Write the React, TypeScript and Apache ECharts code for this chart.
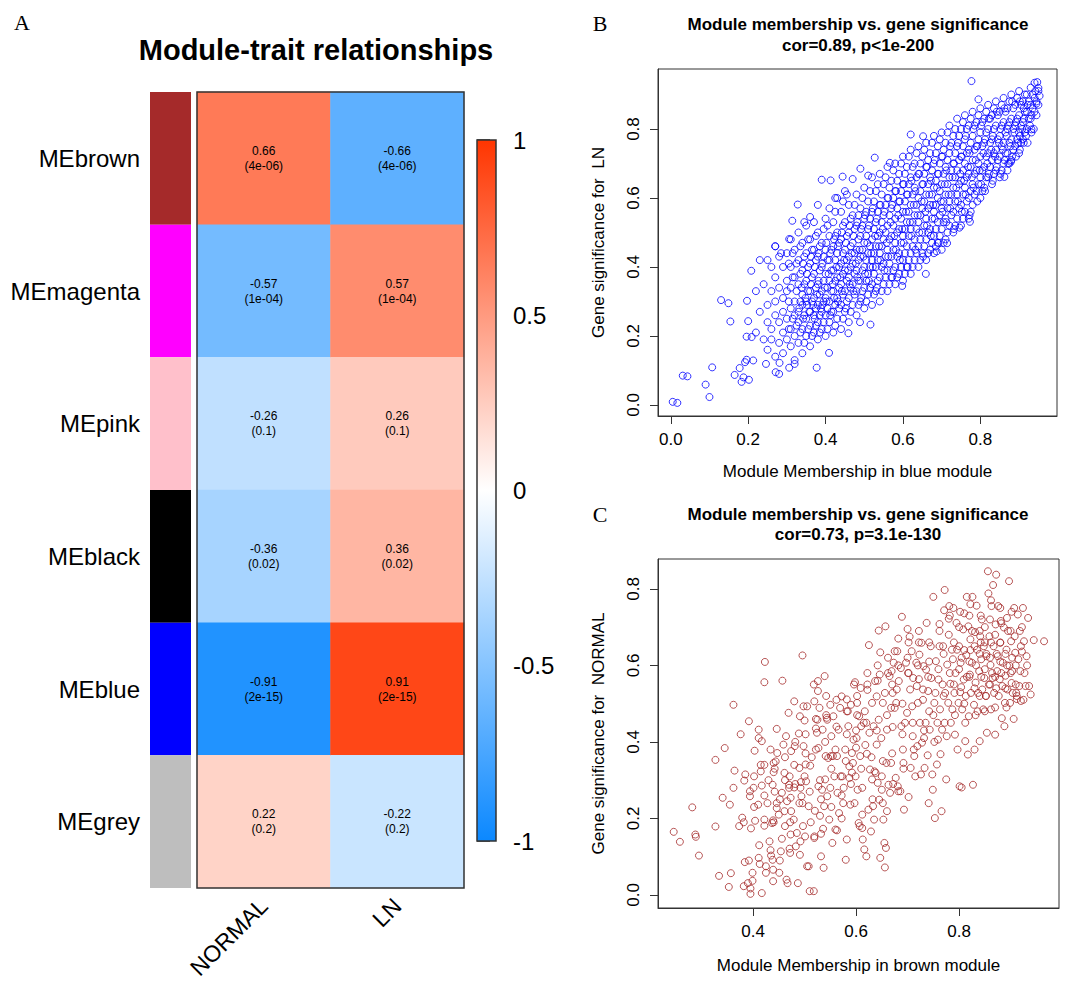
import React, { useEffect, useRef } from "react";
import * as echarts from "echarts";

const FONT = "'Liberation Sans', Arial, Helvetica, sans-serif";

// ---------- Panel A data ----------
const modules = ["MEbrown", "MEmagenta", "MEpink", "MEblack", "MEblue", "MEgrey"];
const moduleColors = ["#A52A2A", "#FF00FF", "#FFC0CB", "#000000", "#0000FF", "#BEBEBE"];
const traits = ["NORMAL", "LN"];
const corNormal = [0.66, -0.57, -0.26, -0.36, -0.91, 0.22];
const corLN = [-0.66, 0.57, 0.26, 0.36, 0.91, -0.22];
const pValues = ["4e-06", "1e-04", "0.1", "0.02", "2e-15", "0.2"];

// ---------- Panel B data (Module membership in blue vs GS for LN) ----------
const bTicks = [0, 0.2, 0.4, 0.6, 0.8];
const bSparse = [
  [0.005,0.009],[0.017,0.006],[0.031,0.085],[0.043,0.083],[0.09,0.059],[0.1,0.023],[0.107,0.109],
  [0.13,0.304],[0.149,0.295],[0.154,0.242],[0.165,0.087],[0.178,0.107],[0.183,0.067],[0.188,0.08],
  [0.192,0.124],[0.196,0.131],[0.202,0.073],[0.213,0.129],[0.197,0.302],[0.208,0.389],[0.196,0.198],
  [0.209,0.197],[0.2,0.243],[0.246,0.119],[0.271,0.095],[0.28,0.09],[0.281,0.122],[0.306,0.108],
  [0.32,0.119],[0.377,0.108],[0.328,0.581],[0.314,0.534],[0.306,0.481],[0.39,0.653],[0.413,0.651],
  [0.38,0.58],[0.527,0.717],[0.566,0.702],[0.516,0.233],[0.62,0.784],[0.652,0.779],[0.659,0.38],
  [0.777,0.939],[0.795,0.886],[0.862,0.661],[0.879,0.705],[0.932,0.799],[0.94,0.934],[0.947,0.936],
  [0.95,0.919],[0.953,0.896],[0.945,0.874],[0.773,0.531],[0.746,0.514],[0.714,0.469],[0.687,0.445],
  [0.598,0.345],[0.459,0.208],[0.409,0.151],[0.489,0.24],
  [0.444,0.662],[0.47,0.655],[0.49,0.685],[0.51,0.665],[0.425,0.6],[0.455,0.61],[0.345,0.53],[0.36,0.545],
  [0.27,0.46],[0.285,0.44]
];
const bBandA = [
  [0.22,0.33],[0.22,0.21],[0.23,0.42],[0.23,0.27],[0.24,0.19],[0.24,0.35],[0.25,0.42],[0.25,0.29],[0.25,0.16],[0.25,0.24],
  [0.26,0.40],[0.26,0.33],[0.26,0.22],[0.26,0.19],[0.27,0.46],[0.27,0.37],[0.27,0.30],[0.27,0.26],[0.27,0.14],[0.28,0.43],
  [0.28,0.34],[0.28,0.24],[0.28,0.18],[0.29,0.40],[0.29,0.31],[0.29,0.27],[0.29,0.21],[0.29,0.15],[0.30,0.44],[0.30,0.36],
  [0.30,0.33],[0.30,0.25],[0.30,0.19],
  [0.31,0.48],[0.31,0.40],[0.31,0.34],[0.31,0.28],[0.31,0.22],[0.31,0.17],[0.32,0.45],[0.32,0.37],[0.32,0.30],[0.32,0.26],
  [0.32,0.20],[0.32,0.13],[0.33,0.50],[0.33,0.42],[0.33,0.35],[0.33,0.27],[0.33,0.24],[0.33,0.18],[0.34,0.47],[0.34,0.39],
  [0.34,0.32],[0.34,0.29],[0.34,0.22],[0.34,0.15],[0.35,0.52],[0.35,0.44],[0.35,0.36],[0.35,0.30],[0.35,0.25],[0.35,0.20],
  [0.36,0.48],[0.36,0.41],[0.36,0.33],[0.36,0.27],[0.36,0.23],[0.36,0.17],[0.37,0.53],[0.37,0.45],[0.37,0.38],[0.37,0.31],
  [0.37,0.26],[0.37,0.21],[0.38,0.50],[0.38,0.43],[0.38,0.35],[0.38,0.29],[0.38,0.24],[0.38,0.19],[0.39,0.47],[0.39,0.40],
  [0.39,0.33],[0.39,0.27],[0.39,0.22],[0.40,0.54],[0.40,0.45],[0.40,0.38],[0.40,0.31],[0.40,0.26],[0.40,0.20],
  [0.41,0.57],[0.41,0.49],[0.41,0.42],[0.41,0.36],[0.41,0.30],[0.41,0.24],[0.42,0.53],[0.42,0.46],[0.42,0.39],[0.42,0.33],
  [0.42,0.27],[0.42,0.21],[0.43,0.60],[0.43,0.50],[0.43,0.44],[0.43,0.37],[0.43,0.31],[0.43,0.25],[0.44,0.56],[0.44,0.48],
  [0.44,0.41],[0.44,0.35],[0.44,0.29],[0.44,0.22],[0.45,0.62],[0.45,0.53],[0.45,0.45],[0.45,0.39],[0.45,0.33],[0.45,0.27],
  [0.46,0.58],[0.46,0.50],[0.46,0.43],[0.46,0.37],[0.46,0.31],[0.46,0.24],[0.47,0.55],[0.47,0.47],[0.47,0.41],[0.47,0.35],
  [0.47,0.29],[0.48,0.61],[0.48,0.52],[0.48,0.45],[0.48,0.39],[0.48,0.33],[0.48,0.26],[0.49,0.57],[0.49,0.49],[0.49,0.43],
  [0.49,0.36],[0.49,0.30],[0.50,0.63],[0.50,0.54],[0.50,0.47],[0.50,0.40],[0.50,0.34],[0.50,0.28],
  [0.51,0.59],[0.51,0.51],[0.51,0.44],[0.51,0.38],[0.51,0.32],[0.52,0.66],[0.52,0.56],[0.52,0.48],[0.52,0.42],[0.52,0.35],
  [0.52,0.29],[0.53,0.62],[0.53,0.53],[0.53,0.46],[0.53,0.40],[0.53,0.33],[0.54,0.67],[0.54,0.58],[0.54,0.50],[0.54,0.44],
  [0.54,0.37],[0.54,0.30],[0.55,0.64],[0.55,0.55],[0.55,0.48],[0.55,0.41],[0.55,0.35],[0.56,0.69],[0.56,0.60],[0.56,0.52],
  [0.56,0.45],[0.56,0.39],[0.56,0.33],[0.57,0.65],[0.57,0.57],[0.57,0.49],[0.57,0.43],[0.57,0.37],[0.58,0.70],[0.58,0.62],
  [0.58,0.54],[0.58,0.47],[0.58,0.40],[0.58,0.35],[0.59,0.67],[0.59,0.59],[0.59,0.51],[0.59,0.44],[0.59,0.38],[0.60,0.72],
  [0.60,0.64],[0.60,0.56],[0.60,0.49],[0.60,0.42],[0.60,0.36],
  [0.61,0.69],[0.61,0.61],[0.61,0.53],[0.61,0.46],[0.61,0.40],[0.62,0.74],[0.62,0.66],[0.62,0.58],[0.62,0.51],[0.62,0.44],
  [0.62,0.38],[0.63,0.70],[0.63,0.63],[0.63,0.55],[0.63,0.48],[0.63,0.42],[0.64,0.75],[0.64,0.67],[0.64,0.60],[0.64,0.53],
  [0.64,0.46],[0.64,0.40],[0.65,0.72],[0.65,0.64],[0.65,0.57],[0.65,0.50],[0.65,0.44],[0.66,0.76],[0.66,0.69],[0.66,0.61],
  [0.66,0.54],[0.66,0.48],[0.66,0.42],[0.67,0.73],[0.67,0.66],[0.67,0.58],[0.67,0.51],[0.67,0.45],[0.68,0.78],[0.68,0.70],
  [0.68,0.63],[0.68,0.56],[0.68,0.49],[0.68,0.44],[0.69,0.75],[0.69,0.67],[0.69,0.60],[0.69,0.53],[0.69,0.47],[0.70,0.79],
  [0.70,0.72],[0.70,0.64],[0.70,0.57],[0.70,0.51],[0.70,0.45],
  [0.71,0.76],[0.71,0.69],[0.71,0.61],[0.71,0.54],[0.71,0.48],[0.72,0.81],[0.72,0.73],[0.72,0.66],[0.72,0.59],[0.72,0.52],
  [0.73,0.78],[0.73,0.70],[0.73,0.63],[0.73,0.56],[0.73,0.50],[0.74,0.83],[0.74,0.75],[0.74,0.68],[0.74,0.61],[0.74,0.54],
  [0.75,0.80],[0.75,0.72],[0.75,0.65],[0.75,0.58],[0.75,0.52],[0.76,0.84],[0.76,0.77],[0.76,0.70],[0.76,0.63],[0.76,0.56],
  [0.77,0.81],[0.77,0.74],[0.77,0.67],[0.77,0.60],[0.77,0.54],[0.78,0.85],[0.78,0.78],[0.78,0.71],[0.78,0.64],[0.78,0.58],
  [0.79,0.82],[0.79,0.75],[0.79,0.68],[0.79,0.62],[0.80,0.86],[0.80,0.79],[0.80,0.72],[0.80,0.66],[0.80,0.60],
  [0.81,0.83],[0.81,0.76],[0.81,0.69],[0.81,0.63],[0.82,0.87],[0.82,0.80],[0.82,0.73],[0.82,0.66],[0.83,0.84],[0.83,0.77],
  [0.83,0.71],[0.83,0.64],[0.84,0.88],[0.84,0.81],[0.84,0.74],[0.84,0.68],[0.85,0.85],[0.85,0.78],[0.85,0.72],[0.85,0.66],
  [0.86,0.89],[0.86,0.82],[0.86,0.76],[0.86,0.70],[0.87,0.86],[0.87,0.80],[0.87,0.73],[0.87,0.68],[0.88,0.90],[0.88,0.83],
  [0.88,0.77],[0.88,0.71],[0.89,0.87],[0.89,0.81],[0.89,0.75],[0.90,0.91],[0.90,0.84],[0.90,0.79],[0.90,0.73],
  [0.91,0.88],[0.91,0.82],[0.91,0.77],[0.92,0.90],[0.92,0.85],[0.92,0.80],[0.93,0.92],[0.93,0.87],[0.93,0.83],[0.94,0.89],
  [0.94,0.85],[0.95,0.91],[0.95,0.87]
];
const bBandB = [
  [0.305,0.41],[0.305,0.30],[0.305,0.22],[0.315,0.44],[0.315,0.37],[0.315,0.25],[0.325,0.41],[0.325,0.33],[0.325,0.23],
  [0.335,0.46],[0.335,0.38],[0.335,0.30],[0.335,0.21],[0.345,0.43],[0.345,0.35],[0.345,0.26],[0.345,0.18],[0.355,0.48],
  [0.355,0.40],[0.355,0.33],[0.355,0.22],[0.365,0.45],[0.365,0.37],[0.365,0.30],[0.365,0.20],[0.375,0.49],[0.375,0.42],
  [0.375,0.34],[0.375,0.28],[0.375,0.23],[0.385,0.46],[0.385,0.39],[0.385,0.32],[0.385,0.26],[0.385,0.21],[0.395,0.51],
  [0.395,0.43],[0.395,0.36],[0.395,0.30],[0.395,0.24],
  [0.405,0.52],[0.405,0.42],[0.405,0.34],[0.405,0.28],[0.405,0.22],[0.415,0.45],[0.415,0.39],[0.415,0.33],[0.415,0.27],
  [0.425,0.56],[0.425,0.49],[0.425,0.42],[0.425,0.36],[0.425,0.29],[0.425,0.23],[0.435,0.47],[0.435,0.40],[0.435,0.34],
  [0.435,0.28],[0.445,0.59],[0.445,0.52],[0.445,0.44],[0.445,0.38],[0.445,0.32],[0.445,0.25],[0.455,0.49],[0.455,0.42],
  [0.455,0.36],[0.455,0.30],[0.465,0.54],[0.465,0.46],[0.465,0.40],[0.465,0.34],[0.465,0.27],[0.475,0.58],[0.475,0.51],
  [0.475,0.44],[0.475,0.38],[0.475,0.32],[0.485,0.55],[0.485,0.48],[0.485,0.42],[0.485,0.36],[0.485,0.29],[0.495,0.60],
  [0.495,0.52],[0.495,0.45],[0.495,0.39],[0.495,0.33],
  [0.505,0.56],[0.505,0.49],[0.505,0.42],[0.505,0.36],[0.505,0.30],[0.515,0.62],[0.515,0.54],[0.515,0.46],[0.515,0.40],
  [0.515,0.34],[0.525,0.59],[0.525,0.51],[0.525,0.44],[0.525,0.38],[0.525,0.32],[0.535,0.64],[0.535,0.56],[0.535,0.49],
  [0.535,0.42],[0.535,0.36],[0.545,0.61],[0.545,0.53],[0.545,0.46],[0.545,0.40],[0.545,0.33],[0.555,0.66],[0.555,0.58],
  [0.555,0.50],[0.555,0.43],[0.555,0.37],[0.565,0.63],[0.565,0.55],[0.565,0.48],[0.565,0.41],[0.565,0.35],[0.575,0.68],
  [0.575,0.60],[0.575,0.52],[0.575,0.45],[0.575,0.39],[0.585,0.65],[0.585,0.57],[0.585,0.50],[0.585,0.43],[0.585,0.37],
  [0.595,0.70],[0.595,0.62],[0.595,0.54],[0.595,0.47],[0.595,0.40],
  [0.605,0.67],[0.605,0.59],[0.605,0.51],[0.605,0.44],[0.605,0.38],[0.615,0.72],[0.615,0.64],[0.615,0.56],[0.615,0.49],
  [0.615,0.42],[0.625,0.69],[0.625,0.61],[0.625,0.53],[0.625,0.46],[0.625,0.40],[0.635,0.73],[0.635,0.66],[0.635,0.58],
  [0.635,0.51],[0.635,0.44],[0.645,0.70],[0.645,0.62],[0.645,0.55],[0.645,0.48],[0.645,0.42],[0.655,0.74],[0.655,0.67],
  [0.655,0.59],[0.655,0.52],[0.655,0.46],[0.665,0.71],[0.665,0.64],[0.665,0.57],[0.665,0.50],[0.665,0.44],[0.675,0.76],
  [0.675,0.68],[0.675,0.61],[0.675,0.54],[0.675,0.47],[0.685,0.73],[0.685,0.65],[0.685,0.58],[0.685,0.51],[0.685,0.46],
  [0.695,0.77],[0.695,0.70],[0.695,0.62],[0.695,0.55],[0.695,0.49],
  [0.705,0.74],[0.705,0.67],[0.705,0.59],[0.705,0.53],[0.705,0.47],[0.715,0.79],[0.715,0.71],[0.715,0.64],[0.715,0.57],
  [0.715,0.50],[0.725,0.76],[0.725,0.68],[0.725,0.61],[0.725,0.55],[0.735,0.80],[0.735,0.73],[0.735,0.66],[0.735,0.59],
  [0.735,0.52],[0.745,0.78],[0.745,0.71],[0.745,0.64],[0.745,0.57],[0.755,0.82],[0.755,0.75],[0.755,0.68],[0.755,0.61],
  [0.755,0.54],[0.765,0.80],[0.765,0.73],[0.765,0.66],[0.765,0.59],[0.775,0.83],[0.775,0.76],[0.775,0.69],[0.775,0.62],
  [0.775,0.56],[0.785,0.81],[0.785,0.74],[0.785,0.67],[0.785,0.61],[0.795,0.84],[0.795,0.77],[0.795,0.70],[0.795,0.64],
  [0.805,0.82],[0.805,0.75],[0.805,0.68],[0.805,0.62],[0.815,0.85],[0.815,0.79],[0.815,0.72],[0.815,0.66],[0.825,0.83],
  [0.825,0.76],[0.825,0.69],[0.835,0.86],[0.835,0.80],[0.835,0.73],[0.835,0.67],[0.845,0.84],[0.845,0.77],[0.845,0.71],
  [0.855,0.87],[0.855,0.81],[0.855,0.75],[0.855,0.68],[0.865,0.85],[0.865,0.79],[0.865,0.73],[0.875,0.88],[0.875,0.82],
  [0.875,0.76],[0.875,0.70],[0.885,0.86],[0.885,0.80],[0.885,0.74],[0.895,0.89],[0.895,0.83],[0.895,0.77],[0.905,0.87],
  [0.905,0.81],[0.905,0.76],[0.915,0.90],[0.915,0.85],[0.915,0.79],[0.925,0.88],[0.925,0.83],[0.935,0.90],[0.935,0.86],
  [0.945,0.88],[0.945,0.84]
];
const bBandC = [
  [0.332,0.28],[0.338,0.34],[0.342,0.25],[0.348,0.31],[0.352,0.38],[0.358,0.27],[0.362,0.35],[0.368,0.29],[0.372,0.40],
  [0.378,0.32],[0.382,0.36],[0.388,0.28],[0.392,0.41],[0.398,0.34],[0.402,0.30],[0.408,0.38],[0.412,0.44],[0.418,0.35],
  [0.422,0.31],[0.428,0.40],[0.432,0.46],[0.438,0.37],[0.442,0.33],[0.448,0.42],[0.452,0.47],[0.458,0.39],[0.462,0.35],
  [0.468,0.44],[0.472,0.49],[0.478,0.41],[0.482,0.37],[0.488,0.45],[0.492,0.51],[0.498,0.43],[0.502,0.38],[0.508,0.47],
  [0.512,0.52],[0.518,0.44],[0.522,0.40],[0.528,0.49],[0.532,0.54],[0.538,0.46],[0.542,0.42],[0.548,0.51],[0.552,0.56],
  [0.558,0.47],[0.562,0.43],[0.568,0.53],[0.572,0.58],[0.578,0.49],[0.582,0.45],[0.588,0.55],[0.592,0.59],[0.598,0.51],
  [0.602,0.47],[0.608,0.56],[0.612,0.61],[0.618,0.53],[0.622,0.49],[0.628,0.58],[0.632,0.62],[0.638,0.55],[0.642,0.50],
  [0.648,0.59],[0.652,0.64],[0.658,0.56],[0.662,0.52],[0.668,0.61],[0.672,0.65],[0.678,0.58],[0.682,0.54],[0.688,0.63],
  [0.692,0.67],[0.698,0.59],[0.702,0.56],[0.708,0.64],[0.712,0.68],[0.718,0.61],[0.722,0.57],[0.728,0.66],[0.732,0.70],
  [0.738,0.63],[0.742,0.59],[0.748,0.67],[0.752,0.72],[0.758,0.65],[0.762,0.61],[0.768,0.69],[0.772,0.73],[0.778,0.66],
  [0.782,0.63],[0.788,0.71],[0.792,0.75],[0.798,0.68],[0.802,0.64],[0.808,0.73],[0.812,0.77],[0.818,0.70],[0.822,0.67],
  [0.828,0.74],[0.832,0.78],[0.838,0.72],[0.842,0.69],[0.848,0.76],[0.852,0.80],[0.858,0.74],[0.862,0.71],[0.868,0.78],
  [0.872,0.81],[0.878,0.75],[0.882,0.72],[0.888,0.79],[0.892,0.82],[0.898,0.76],[0.902,0.74],[0.908,0.80],[0.912,0.83],
  [0.918,0.78],[0.922,0.76],[0.928,0.81],[0.932,0.84],[0.938,0.80]
];
const bBandD = [
  [0.342,0.41],[0.352,0.29],[0.362,0.43],[0.372,0.25],[0.382,0.44],[0.392,0.29],[0.402,0.47],[0.412,0.26],[0.422,0.48],
  [0.432,0.30],[0.442,0.50],[0.452,0.28],[0.462,0.52],[0.472,0.33],[0.482,0.53],[0.492,0.31],[0.502,0.55],[0.512,0.36],
  [0.522,0.57],[0.532,0.34],[0.542,0.58],[0.552,0.39],[0.562,0.60],[0.572,0.37],[0.582,0.62],[0.592,0.42],[0.602,0.64],
  [0.612,0.40],[0.622,0.65],[0.632,0.45],[0.642,0.67],[0.652,0.43],[0.662,0.69],[0.672,0.49],[0.682,0.71],[0.692,0.47],
  [0.702,0.72],[0.712,0.53],[0.722,0.75],[0.732,0.51],[0.742,0.76],[0.752,0.56],[0.762,0.78],[0.772,0.55],[0.782,0.80],
  [0.792,0.59],[0.802,0.81],[0.812,0.62],[0.822,0.83],[0.832,0.65],[0.842,0.85],[0.852,0.67],[0.862,0.86],[0.872,0.70],
  [0.882,0.88],[0.892,0.72],[0.902,0.88],[0.912,0.76],[0.922,0.87],[0.932,0.79],[0.942,0.91],[0.912,0.86],[0.902,0.78]
];

// ---------- Panel C data (Module membership in brown vs GS for NORMAL) ----------
const cXTicks = [0.4, 0.6, 0.8];
const cYTicks = [0, 0.2, 0.4, 0.6, 0.8];
const cPoints = [
  [0.246,0.165],[0.258,0.139],[0.282,0.229],[0.288,0.158],[0.289,0.152],[0.295,0.103],[0.327,0.353],[0.327,0.179],
  [0.334,0.05],[0.341,0.254],[0.345,0.384],[0.353,0.021],[0.355,0.236],[0.357,0.057],[0.362,0.497],[0.364,0.325],
  [0.373,0.18],[0.376,0.42],[0.379,0.202],[0.383,0.299],[0.385,0.315],[0.384,0.086],[0.382,0.023],[0.392,0.454],
  [0.394,0.271],[0.394,0.258],[0.39,0.031],[0.395,0.017],[0.395,0.003],[0.399,0.058],[0.399,0.037],[0.396,0.174],
  [0.403,0.377],[0.401,0.28],[0.404,0.194],[0.411,0.432],[0.411,0.41],[0.41,0.236],[0.411,0.097],[0.413,0.081],
  [0.415,0.34],[0.415,0.323],[0.417,0.402],[0.417,0.286],[0.417,0.005],[0.423,0.609],[0.422,0.556],[0.422,0.197],
  [0.422,0.181],[0.425,0.075],[0.425,0.058],[0.428,0.24],[0.434,0.38],[0.434,0.117],[0.435,0.103],[0.438,0.092],
  [0.439,0.066],[0.439,0.036],[0.438,0.288],[0.439,0.195],[0.437,0.188],[0.44,0.321],[0.44,0.345],[0.444,0.349],
  [0.446,0.434],[0.446,0.24],[0.447,0.371],[0.446,0.227],[0.451,0.058],[0.454,0.114],[0.456,0.267],[0.456,0.147],
  [0.457,0.56],[0.459,0.393],[0.461,0.319],[0.461,0.219],[0.462,0.18],[0.464,0.415],[0.465,0.04],[0.466,0.245],
  [0.467,0.031],[0.469,0.476],[0.47,0.288],[0.471,0.31],[0.471,0.121],[0.473,0.158],[0.473,0.254],[0.474,0.376],
  [0.474,0.219],[0.479,0.197],[0.48,0.506],[0.48,0.281],[0.481,0.389],[0.483,0.127],[0.485,0.162],[0.487,0.031],
  [0.489,0.422],[0.49,0.332],[0.491,0.467],[0.491,0.105],[0.493,0.295],[0.494,0.258],[0.496,0.626],[0.496,0.24],
  [0.497,0.18],[0.498,0.389],[0.498,0.493],[0.5,0.456],[0.501,0.153],[0.502,0.341],[0.503,0.297],[0.505,0.493],
  [0.505,0.075],[0.508,0.075],[0.508,0.232],[0.51,0.01],[0.514,0.36],[0.511,0.338],[0.518,0.01],[0.518,0.55],
  [0.519,0.153],[0.519,0.149],[0.519,0.506],[0.522,0.435],[0.524,0.424],[0.525,0.458],[0.526,0.559],[0.526,0.533],
  [0.527,0.284],[0.527,0.384],[0.529,0.489],[0.53,0.207],[0.532,0.101],[0.534,0.275],[0.535,0.432],[0.536,0.173],
  [0.537,0.071],[0.538,0.232],[0.539,0.572],[0.54,0.302],[0.541,0.363],[0.543,0.463],[0.544,0.258],[0.544,0.458],
  [0.546,0.358],[0.548,0.197],[0.55,0.497],[0.551,0.363],[0.552,0.415],[0.554,0.136],[0.555,0.363],[0.556,0.467],
  [0.558,0.31],[0.56,0.171],[0.563,0.363],[0.563,0.169],[0.564,0.267],[0.566,0.432],[0.567,0.214],[0.569,0.489],
  [0.572,0.519],[0.573,0.31],[0.575,0.24],[0.576,0.28],[0.579,0.38],[0.58,0.092],[0.582,0.145],[0.582,0.511],
  [0.584,0.48],[0.585,0.441],[0.587,0.336],[0.587,0.306],[0.589,0.236],[0.59,0.497],[0.592,0.371],[0.594,0.345],
  [0.595,0.406],[0.596,0.55],[0.598,0.556],[0.597,0.24],[0.599,0.31],[0.6,0.385],[0.601,0.41],[0.602,0.502],
  [0.603,0.275],[0.605,0.188],[0.606,0.467],[0.607,0.18],[0.608,0.363],[0.609,0.541],[0.61,0.441],[0.612,0.175],
  [0.613,0.145],[0.615,0.45],[0.616,0.119],[0.617,0.48],[0.618,0.392],[0.62,0.101],[0.621,0.369],[0.622,0.536],
  [0.624,0.223],[0.625,0.653],[0.626,0.424],[0.627,0.328],[0.629,0.166],[0.631,0.302],[0.631,0.502],[0.633,0.232],
  [0.634,0.441],[0.635,0.197],[0.636,0.323],[0.637,0.559],[0.638,0.319],[0.64,0.393],[0.64,0.519],[0.642,0.293],
  [0.644,0.458],[0.644,0.691],[0.645,0.249],[0.646,0.576],[0.647,0.634],[0.647,0.097],[0.649,0.41],[0.65,0.275],
  [0.652,0.502],[0.653,0.197],[0.655,0.136],[0.656,0.528],[0.656,0.072],[0.657,0.702],[0.658,0.123],[0.659,0.345],
  [0.66,0.432],[0.66,0.219],[0.663,0.288],[0.665,0.572],[0.666,0.267],[0.668,0.489],[0.668,0.345],[0.669,0.585],
  [0.671,0.528],[0.671,0.439],[0.673,0.607],[0.675,0.637],[0.675,0.489],[0.677,0.306],[0.678,0.502],[0.679,0.537],
  [0.68,0.637],[0.681,0.284],[0.682,0.271],[0.683,0.559],[0.686,0.271],[0.687,0.593],[0.688,0.441],[0.689,0.727],
  [0.691,0.38],[0.692,0.345],[0.693,0.223],[0.695,0.45],[0.697,0.607],[0.699,0.476],[0.7,0.695],[0.701,0.58],
  [0.702,0.256],[0.704,0.675],[0.705,0.537],[0.706,0.332],[0.708,0.637],[0.709,0.493],[0.71,0.415],[0.711,0.567],
  [0.713,0.363],[0.715,0.31],[0.717,0.607],[0.718,0.546],[0.719,0.389],[0.72,0.502],[0.722,0.564],[0.723,0.628],
  [0.724,0.45],[0.726,0.315],[0.727,0.659],[0.728,0.398],[0.73,0.537],[0.731,0.598],[0.732,0.41],[0.733,0.332],
  [0.735,0.45],[0.736,0.589],[0.737,0.711],[0.739,0.365],[0.74,0.533],[0.741,0.24],[0.742,0.48],[0.743,0.432],
  [0.745,0.65],[0.746,0.567],[0.748,0.315],[0.749,0.275],[0.75,0.779],[0.752,0.502],[0.753,0.201],[0.754,0.528],
  [0.755,0.611],[0.757,0.341],[0.758,0.45],[0.759,0.406],[0.76,0.563],[0.762,0.708],[0.763,0.485],[0.764,0.368],
  [0.766,0.219],[0.767,0.432],[0.768,0.55],[0.769,0.65],[0.771,0.744],[0.772,0.797],[0.773,0.528],[0.775,0.302],
  [0.776,0.415],[0.777,0.602],[0.779,0.502],[0.78,0.722],[0.781,0.755],[0.783,0.552],[0.784,0.45],[0.786,0.641],
  [0.787,0.485],[0.788,0.616],[0.789,0.75],[0.791,0.528],[0.792,0.419],[0.793,0.58],[0.795,0.711],[0.796,0.641],
  [0.797,0.38],[0.799,0.502],[0.8,0.65],[0.801,0.284],[0.803,0.607],[0.804,0.543],[0.805,0.281],[0.806,0.485],
  [0.808,0.694],[0.809,0.563],[0.81,0.736],[0.812,0.402],[0.813,0.52],[0.814,0.627],[0.815,0.779],[0.817,0.367],
  [0.818,0.702],[0.819,0.467],[0.821,0.576],[0.822,0.668],[0.823,0.528],[0.825,0.607],[0.826,0.779],[0.827,0.288],
  [0.829,0.497],[0.83,0.38],[0.831,0.687],[0.832,0.555],[0.834,0.756],[0.835,0.641],[0.836,0.48],[0.837,0.528],
  [0.839,0.585],[0.84,0.402],[0.841,0.676],[0.843,0.616],[0.844,0.72],[0.845,0.537],[0.847,0.485],[0.848,0.65],
  [0.849,0.567],[0.85,0.7],[0.852,0.52],[0.853,0.624],[0.854,0.424],[0.856,0.846],[0.857,0.788],[0.858,0.55],
  [0.859,0.676],[0.861,0.601],[0.862,0.485],[0.863,0.755],[0.865,0.567],[0.866,0.81],[0.867,0.65],[0.868,0.528],
  [0.87,0.419],[0.871,0.707],[0.872,0.837],[0.874,0.585],[0.875,0.624],[0.876,0.755],[0.877,0.52],[0.879,0.564],
  [0.88,0.659],[0.881,0.716],[0.883,0.462],[0.884,0.546],[0.885,0.607],[0.887,0.699],[0.888,0.441],[0.889,0.502],
  [0.89,0.573],[0.892,0.641],[0.893,0.724],[0.894,0.537],[0.895,0.69],[0.897,0.82],[0.898,0.599],[0.899,0.502],
  [0.901,0.663],[0.902,0.554],[0.903,0.585],[0.904,0.528],[0.906,0.46],[0.907,0.75],[0.908,0.676],[0.909,0.633],
  [0.911,0.528],[0.912,0.512],[0.914,0.733],[0.915,0.616],[0.917,0.546],[0.918,0.69],[0.919,0.585],[0.92,0.507],
  [0.922,0.636],[0.924,0.75],[0.925,0.51],[0.926,0.663],[0.927,0.58],[0.929,0.546],[0.931,0.624],[0.934,0.724],
  [0.936,0.546],[0.939,0.524],[0.945,0.666],[0.965,0.663]
];
const cExtra = [
  [0.79,0.66],[0.80,0.59],[0.81,0.64],[0.82,0.61],[0.83,0.65],[0.84,0.63],[0.85,0.59],[0.86,0.62],[0.87,0.57],[0.88,0.61],
  [0.86,0.55],[0.85,0.48],[0.87,0.49],[0.83,0.54],[0.81,0.50],[0.88,0.66],[0.89,0.63],[0.90,0.58],[0.91,0.55],[0.84,0.69],
  [0.82,0.73],[0.86,0.72],[0.88,0.75],[0.80,0.70],[0.78,0.68],[0.77,0.63],[0.76,0.59],[0.74,0.57],[0.72,0.60],[0.70,0.62],
  [0.73,0.51],[0.71,0.45],[0.69,0.50],[0.67,0.55],[0.66,0.47],[0.64,0.43],[0.62,0.45],[0.60,0.43],[0.58,0.35],[0.56,0.38],
  [0.54,0.40],[0.53,0.30],[0.51,0.27],[0.49,0.24],[0.47,0.28],[0.45,0.21],[0.44,0.19],[0.43,0.30],[0.48,0.34],[0.50,0.31],
  [0.52,0.22],[0.55,0.28],[0.57,0.31],[0.59,0.29],[0.61,0.33],[0.63,0.36],[0.65,0.31],[0.67,0.37],[0.69,0.42],[0.75,0.47],
  [0.77,0.52],[0.79,0.55],[0.82,0.57],[0.84,0.52],[0.89,0.54],[0.91,0.60],[0.92,0.65],[0.90,0.69],[0.87,0.68],[0.85,0.66]
];
const cExtra2 = [
  [0.805,0.62],[0.815,0.57],[0.825,0.69],[0.833,0.60],[0.843,0.57],[0.853,0.63],[0.864,0.58],[0.873,0.63],[0.882,0.58],
  [0.893,0.60],[0.903,0.62],[0.862,0.66],[0.842,0.66],[0.822,0.64],[0.802,0.53],[0.782,0.58],[0.762,0.65],[0.742,0.61],
  [0.722,0.66],[0.702,0.58],[0.682,0.60],[0.662,0.62],[0.642,0.56],[0.622,0.55],[0.602,0.52],[0.582,0.48],[0.562,0.51],
  [0.542,0.47],[0.522,0.46],[0.502,0.42],[0.482,0.40],[0.462,0.36],[0.442,0.33],[0.422,0.26],[0.402,0.23],[0.382,0.19],
  [0.362,0.28],[0.452,0.25],[0.472,0.19],[0.492,0.28],[0.512,0.19],[0.532,0.25],[0.552,0.33],[0.572,0.26],[0.592,0.32],
  [0.612,0.28],[0.632,0.25],[0.652,0.35],[0.672,0.29],[0.692,0.33],[0.712,0.38],[0.732,0.43],[0.752,0.40],[0.772,0.45],
  [0.792,0.47],[0.812,0.45],[0.832,0.47],[0.852,0.52],[0.872,0.54],[0.892,0.49],[0.912,0.52],[0.932,0.60],[0.922,0.70],
  [0.902,0.74],[0.882,0.71],[0.862,0.77],[0.842,0.73],[0.822,0.76],[0.802,0.74],[0.782,0.73],[0.762,0.69],[0.742,0.66],
  [0.722,0.69],[0.702,0.66],[0.682,0.67],[0.662,0.58],[0.642,0.60],[0.622,0.58],[0.602,0.47],[0.582,0.42],[0.562,0.44],
  [0.542,0.52],[0.522,0.38],[0.502,0.37],[0.482,0.29],[0.462,0.30],[0.442,0.27],[0.422,0.34],[0.402,0.31],[0.432,0.14],
  [0.472,0.11],[0.532,0.16],[0.572,0.20],[0.612,0.21],[0.652,0.24],[0.552,0.23],[0.492,0.14],[0.452,0.09],[0.412,0.13],
  [0.392,0.09]
];

export default function App() {
  const ref = useRef<HTMLDivElement>(null);

  useEffect(() => {
    if (!ref.current) return;
    const chart = echarts.init(ref.current, null, { renderer: "svg" });

    const heatData: any[] = [];
    traits.forEach((t, ti) => {
      modules.forEach((m, mi) => {
        heatData.push([ti, mi, ti === 0 ? corNormal[mi] : corLN[mi]]);
      });
    });

    const axisText = { color: "#000", fontFamily: FONT };
    const scatterX = (gi: number, min: number, max: number, ticks: number[], name: string, gap: number) => ({
      gridIndex: gi, type: "value", min, max,
      splitLine: { show: false },
      axisLine: { show: true, onZero: false, lineStyle: { color: "#333", width: 1 } },
      axisTick: { show: true, length: 8, inside: false, lineStyle: { color: "#333" }, customValues: ticks },
      axisLabel: { ...axisText, fontSize: 17, margin: 15, customValues: ticks, formatter: (v: number) => v.toFixed(1) },
      name, nameLocation: "middle", nameGap: gap,
      nameTextStyle: { ...axisText, fontSize: 17 },
    });
    const scatterY = (gi: number, min: number, max: number, ticks: number[], name: string) => ({
      gridIndex: gi, type: "value", min, max,
      splitLine: { show: false },
      axisLine: { show: true, onZero: false, lineStyle: { color: "#333", width: 1 } },
      axisTick: { show: true, length: 8, inside: false, lineStyle: { color: "#333" }, customValues: ticks },
      axisLabel: { ...axisText, fontSize: 17, margin: 16, rotate: 90, customValues: ticks, formatter: (v: number) => v.toFixed(1) },
      name, nameLocation: "middle", nameGap: 51,
      nameTextStyle: { ...axisText, fontSize: 17 },
    });

    const txt = (text: string, x: number, y: number, font: string) => ({
      type: "text", x, y, z: 100,
      style: { text, font, fill: "#000", textAlign: "center", textVerticalAlign: "middle" },
    });

    const option: any = {
      animation: false,
      textStyle: { fontFamily: FONT },
      grid: [
        { left: 150, top: 92, width: 41, height: 796, show: false },
        { left: 197, top: 92, width: 267, height: 796, show: false },
        { left: 477, top: 140, width: 19, height: 701, show: false },
        { left: 658, top: 69, width: 399, height: 347, show: true, borderColor: "#333", borderWidth: 1, backgroundColor: "transparent" },
        { left: 658, top: 559, width: 401, height: 349, show: true, borderColor: "#333", borderWidth: 1, backgroundColor: "transparent" },
      ],
      xAxis: [
        { gridIndex: 0, type: "value", min: 0, max: 1, show: false },
        {
          gridIndex: 1, type: "category", data: traits,
          axisLine: { show: false }, axisTick: { show: false },
          axisLabel: { ...axisText, fontSize: 23, rotate: 45, margin: 14 },
        },
        { gridIndex: 2, type: "value", min: 0, max: 1, show: false },
        scatterX(3, -0.033, 0.998, bTicks, "Module Membership in blue module", 47),
        scatterX(4, 0.2155, 0.994, cXTicks, "Module Membership in brown module", 49),
      ],
      yAxis: [
        {
          gridIndex: 0, type: "category", data: modules, inverse: true,
          axisLine: { show: false }, axisTick: { show: false },
          axisLabel: { ...axisText, fontSize: 24, margin: 10 },
        },
        { gridIndex: 1, type: "category", data: modules, inverse: true, show: false },
        {
          gridIndex: 2, type: "value", min: -1, max: 1, interval: 0.5, position: "right",
          splitLine: { show: false },
          axisLine: { show: false },
          axisTick: { show: true, length: 13, lineStyle: { color: "#333", width: 1.5 } },
          axisLabel: { ...axisText, fontSize: 24, margin: 17 },
        },
        scatterY(3, -0.032, 0.974, bTicks, "Gene significance for  LN"),
        scatterY(4, -0.034, 0.878, cYTicks, "Gene significance for  NORMAL"),
      ],
      visualMap: [
        {
          type: "continuous", min: -1, max: 1, seriesIndex: 1, dimension: 2, show: false,
          inRange: { color: ["#0B88FF", "#FFFFFF", "#FF3500"] },
        },
      ],
      series: [
        {
          type: "bar", xAxisIndex: 0, yAxisIndex: 0, silent: true, barCategoryGap: "0%",
          data: modules.map((m, i) => ({ value: 1, itemStyle: { color: moduleColors[i] } })),
        },
        {
          type: "heatmap", xAxisIndex: 1, yAxisIndex: 1, data: heatData, silent: true,
          itemStyle: { borderWidth: 0 },
          label: {
            show: true, color: "#000", fontSize: 12, lineHeight: 15, fontFamily: FONT,
            formatter: (p: any) => `${p.data[2].toFixed(2)}\n(${pValues[p.data[1]]})`,
          },
          emphasis: { disabled: true },
        },
        {
          type: "scatter", xAxisIndex: 3, yAxisIndex: 3, silent: true,
          symbol: "circle", symbolSize: 7,
          itemStyle: { color: "rgba(0,0,0,0)", borderColor: "#0000FF", borderWidth: 1 },
          data: [...bSparse, ...bBandA, ...bBandB, ...bBandC, ...bBandD],
        },
        {
          type: "scatter", xAxisIndex: 4, yAxisIndex: 4, silent: true,
          symbol: "circle", symbolSize: 7,
          itemStyle: { color: "rgba(0,0,0,0)", borderColor: "#A52A2A", borderWidth: 1 },
          data: [...cPoints, ...cExtra, ...cExtra2],
        },
      ],
      graphic: [
        txt("A", 22, 22, "22px 'Liberation Serif', 'Times New Roman', serif"),
        txt("Module-trait relationships", 316, 50, `bold 29px ${FONT}`),
        txt("B", 600, 23, "22px 'Liberation Serif', 'Times New Roman', serif"),
        txt("Module membership vs. gene significance", 858, 24, `bold 17px ${FONT}`),
        txt("cor=0.89, p<1e-200", 858, 45, `bold 17px ${FONT}`),
        txt("C", 600, 514, "22px 'Liberation Serif', 'Times New Roman', serif"),
        txt("Module membership vs. gene significance", 858, 514, `bold 17px ${FONT}`),
        txt("cor=0.73, p=3.1e-130", 858, 534, `bold 17px ${FONT}`),
        {
          type: "rect", z: 100,
          shape: { x: 197, y: 92, width: 267, height: 796 },
          style: { fill: "none", stroke: "#333", lineWidth: 1.5 },
        },
        {
          type: "rect", z: 100,
          shape: { x: 477, y: 140, width: 19, height: 701 },
          style: {
            fill: new echarts.graphic.LinearGradient(0, 0, 0, 1, [
              { offset: 0, color: "#FF3500" },
              { offset: 0.5, color: "#FFFFFF" },
              { offset: 1, color: "#0B88FF" },
            ]),
            stroke: "#333", lineWidth: 1.5,
          },
        },
      ],
    };

    chart.setOption(option);
    return () => chart.dispose();
  }, []);

  return (
    <div
      ref={ref}
      style={{ position: "absolute", left: 0, top: 0, width: 1065, height: 985, background: "#fff" }}
    />
  );
}
